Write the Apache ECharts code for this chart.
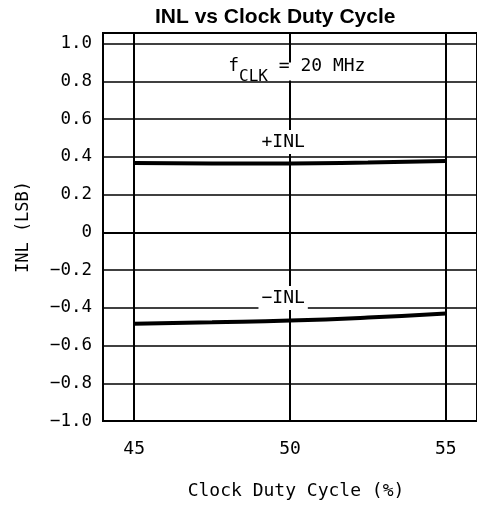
<!DOCTYPE html>
<html><head><meta charset="utf-8">
<script src="https://cdn.jsdelivr.net/npm/echarts@6/dist/echarts.min.js"></script>
<style>html,body{margin:0;padding:0;background:#fff}#c{width:477px;height:508px}</style>
</head><body><div id="c"></div>
<script>
const dutyCycle = [45, 47.5, 50, 52.5, 55];
const inlPos = [0.367, 0.365, 0.365, 0.37, 0.378];
const inlNeg = [-0.485, -0.477, -0.468, -0.452, -0.43];
const xTickValues = [45, 50, 55];
const titleText = 'INL vs Clock Duty Cycle';
const xName = 'Clock Duty Cycle (%)';
const yName = 'INL (LSB)';

const chart = echarts.init(document.getElementById('c'), null, {renderer: 'canvas'});
const mono = 'DejaVu Sans Mono';
const yTickFont = {fontFamily: mono, fontSize: 17.5, color: '#000'};
const xTickFont = {fontFamily: mono, fontSize: 18, color: '#000'};
const fmtY = v => {
  if (Math.abs(v) < 1e-9) return '0';
  const s = Math.abs(v).toFixed(1);
  return v < 0 ? '\u2212' + s : s;
};
chart.setOption({
  animation: false,
  title: {text: titleText, left: 155, top: 7, padding: 0,
    textStyle: {fontFamily: 'Liberation Sans', fontWeight: 'bold', fontSize: 21, color: '#000'}},
  grid: {left: 103, top: 33, bottom: 87, right: -4, show: true, borderColor: '#000', borderWidth: 2, containLabel: false},
  xAxis: {
    type: 'value', min: 44, max: 56,
    name: xName, nameLocation: 'middle', nameGap: 61,
    nameTextStyle: {fontFamily: mono, fontSize: 18, color: '#000', padding: [0, 0, 0, 12]},
    axisLine: {show: true, lineStyle: {color: '#000', width: 2}},
    axisTick: {show: false, customValues: xTickValues},
    axisLabel: Object.assign({}, xTickFont, {customValues: xTickValues, margin: 19}),
    splitLine: {show: true, lineStyle: {color: '#000', width: 2}}
  },
  yAxis: {
    type: 'value', min: -1, max: 1.056, interval: 0.2,
    name: yName, nameLocation: 'middle', nameGap: 71,
    nameTextStyle: {fontFamily: mono, fontSize: 17, color: '#000'},
    axisLine: {show: true, lineStyle: {color: '#000', width: 2}},
    axisTick: {show: false},
    axisLabel: Object.assign({}, yTickFont, {formatter: fmtY, margin: 11, showMaxLabel: false}),
    splitLine: {show: true, lineStyle: {color: '#000', width: 1.5}}
  },
  series: [
    {type: 'line', data: dutyCycle.map((x, i) => [x, inlPos[i]]), symbol: 'none', smooth: true,
     lineStyle: {color: '#000', width: 4}, z: 3,
     markPoint: {symbol: 'circle', symbolSize: 0, silent: true,
       data: [
         {coord: [50.25, 0.852], label: {show: true, position: 'inside', backgroundColor: '#fff', padding: [0, 6, 0, 4],
           formatter: '{a|f}{b|CLK}{a| = 20 MHz}',
           rich: {a: {fontFamily: mono, fontSize: 18, lineHeight: 18, padding: [0, 0, 10, 0], color: '#000'},
                  b: {fontFamily: mono, fontSize: 16, lineHeight: 16, padding: [10, 0, 0, 0], color: '#000'}}}},
         {coord: [49.78, 0.478], label: {show: true, position: 'inside', backgroundColor: '#fff', padding: [3, 3, 3, 3],
           formatter: '+INL', fontFamily: mono, fontSize: 18, color: '#000'}}
       ]}},
    {type: 'line', data: dutyCycle.map((x, i) => [x, inlNeg[i]]), symbol: 'none', smooth: true,
     lineStyle: {color: '#000', width: 4}, z: 3,
     markPoint: {symbol: 'circle', symbolSize: 0, silent: true,
       data: [
         {coord: [49.78, -0.348], label: {show: true, position: 'inside', backgroundColor: '#fff', padding: [3, 3, 3, 3],
           formatter: '\u2212INL', fontFamily: mono, fontSize: 18, color: '#000'}}
       ]}}
  ]
});
</script></body></html>
